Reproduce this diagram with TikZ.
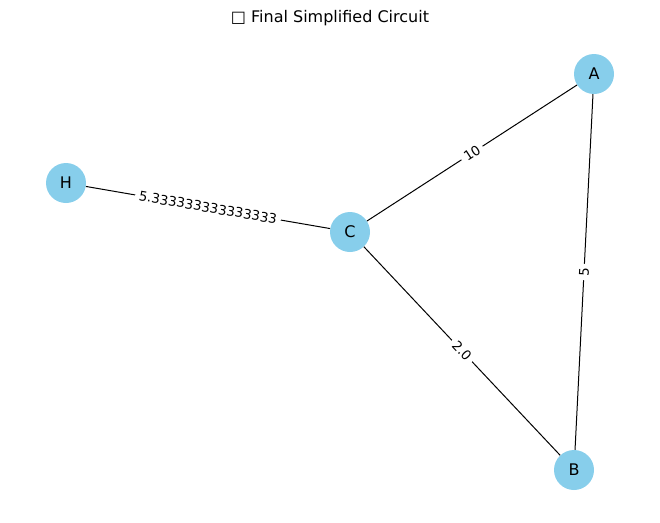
\documentclass[tikz,border=0pt]{standalone}
\usepackage{fontspec}
\setmainfont{DejaVu Sans}
\definecolor{skyblue}{HTML}{87CEEB}
\begin{document}
\begin{tikzpicture}[x=1pt,y=-1pt,
  vertex/.style={circle,fill=skyblue,minimum size=40pt,inner sep=0pt,font=\fontsize{16}{19}\selectfont},
  edge/.style={draw=black,line width=1pt},
  elabel/.style={fill=white,inner xsep=4pt,inner ysep=1pt,font=\fontsize{13.3}{16}\selectfont,sloped}]
\useasboundingbox (0,0) rectangle (660,522);
\node[font=\fontsize{16}{19}\selectfont] (title) at (330,18) {□ Final Simplified Circuit};
\node[vertex] (A) at (594,74) {A};
\node[vertex] (H) at (66,183) {H};
\node[vertex] (C) at (350,232) {C};
\node[vertex] (B) at (574,470) {B};
\draw[edge] (H) -- node[elabel,pos=0.5] {5.333333333333333} (C);
\draw[edge] (C) -- node[elabel] {10} (A);
\draw[edge] (B) -- node[elabel] {5} (A);
\draw[edge] (C) -- node[elabel] {2.0} (B);
\end{tikzpicture}
\end{document}
